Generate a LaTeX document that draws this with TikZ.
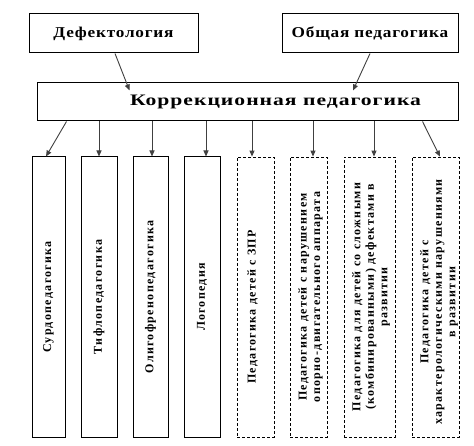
\documentclass[tikz,border=0pt]{standalone}
\usepackage{fontspec}
\setmainfont{Liberation Serif}
\newfontfamily\vfont[LetterSpace=11]{Liberation Serif}
\newfontfamily\hfont[LetterSpace=4.5]{Liberation Serif}
\newfontfamily\mfont[LetterSpace=4.7]{Liberation Serif}
\newcommand{\widetext}[2]{\scalebox{#1}[1]{#2}}
\usetikzlibrary{arrows.meta}
\begin{document}
\begin{tikzpicture}[x=1pt,y=-1pt,
  topbox/.style={draw=black,line width=1pt,fill=white,inner sep=0pt,font=\hfont\bfseries\fontsize{15}{17}\selectfont},
  mainbox/.style={draw=black,line width=1pt,fill=white,inner sep=0pt},
  maintext/.style={inner sep=0pt,font=\mfont\bfseries\fontsize{16}{18}\selectfont},
  solidbox/.style={draw=black,line width=1pt,inner sep=0pt,minimum height=280pt},
  dashbox/.style={draw=black,line width=0.8pt,dash pattern=on 3pt off 2pt,inner sep=0pt,minimum height=280pt},
  vtext/.style={rotate=90,align=center,inner sep=0pt,font=\vfont\bfseries\fontsize{12}{13.5}\selectfont},
  arr/.style={draw=black!75,line width=0.9pt,-{Triangle[length=6pt,width=5pt]}}
]
\fill[white] (0,0) rectangle (474,446);
\useasboundingbox (0,0) rectangle (474,446);

\node[topbox,minimum width=169pt,minimum height=39pt] (def) at (113.5,33.5) {\widetext{1.15}{Дефектология}};
\node[topbox,minimum width=176pt,minimum height=39pt] (obs) at (370,33.5) {\widetext{1.15}{Общая педагогика}};
\node[mainbox,minimum width=421pt,minimum height=38pt] (main) at (247.5,102) {};
\node[maintext] (maint) at ([xshift=28pt]main.center) {\widetext{1.35}{Коррекционная педагогика}};

\node[solidbox,minimum width=33pt] (b1) at (48.5,297) {};
\node[solidbox,minimum width=36pt] (b2) at (99,297) {};
\node[solidbox,minimum width=35pt] (b3) at (150.5,297) {};
\node[solidbox,minimum width=36pt] (b4) at (202,297) {};
\node[dashbox,minimum width=37pt] (b5) at (255.5,297) {};
\node[dashbox,minimum width=37pt] (b6) at (308.5,297) {};
\node[dashbox,minimum width=51pt] (b7) at (369.5,297) {};
\node[dashbox,minimum width=47pt] (b8) at (435.5,297) {};

\node[vtext] (t1) at (b1.center) {Сурдопедагогика};
\node[vtext] (t2) at (b2.center) {Тифлопедагогика};
\node[vtext] (t3) at (b3.center) {Олигофренопедагогика};
\node[vtext] (t4) at (b4.center) {Логопедия};
\node[vtext] (t5) at ([xshift=-3pt,yshift=-10pt]b5.center) {Педагогика детей с ЗПР};
\node[vtext] (t6) at ([xshift=2pt]b6.center) {Педагогика детей с нарушением\\опорно-двигательного аппарата};
\node[vtext] (t7) at ([xshift=1.5pt]b7.center) {Педагогика для детей со сложными\\(комбинированными) дефектами в\\развитии};
\begin{scope}
\clip (b8.south west) rectangle (b8.north east);
\node[vtext] (t8) at ([xshift=3.5pt,yshift=-5pt]b8.center) {Педагогика детей с\\характерологическими нарушениями\\в развитии};
\end{scope}

\draw[arr] ([xshift=1.5pt]def.south) -- ([xshift=16pt,yshift=-8pt]main.north west -| def.south);
\draw[arr] (obs.south) -- ([xshift=-17pt,yshift=-8pt]main.north east -| obs.south);

\draw[arr] ([xshift=30pt]main.south west) -- ([xshift=-2.5pt]b1.north);
\draw[arr] (b2.north |- main.south) -- (b2.north);
\draw[arr] ([xshift=1.5pt]b3.north |- main.south) -- ([xshift=1.5pt]b3.north);
\draw[arr] ([xshift=4pt]b4.north |- main.south) -- ([xshift=4pt]b4.north);
\draw[arr] ([xshift=-3.5pt]b5.north |- main.south) -- ([xshift=-3.5pt]b5.north);
\draw[arr] ([xshift=4.5pt]b6.north |- main.south) -- ([xshift=4.5pt]b6.north);
\draw[arr] ([xshift=4.5pt]b7.north |- main.south) -- ([xshift=4.5pt]b7.north);
\draw[arr] ([xshift=-36pt]main.south east) -- ([xshift=4.5pt]b8.north);
\end{tikzpicture}
\end{document}
